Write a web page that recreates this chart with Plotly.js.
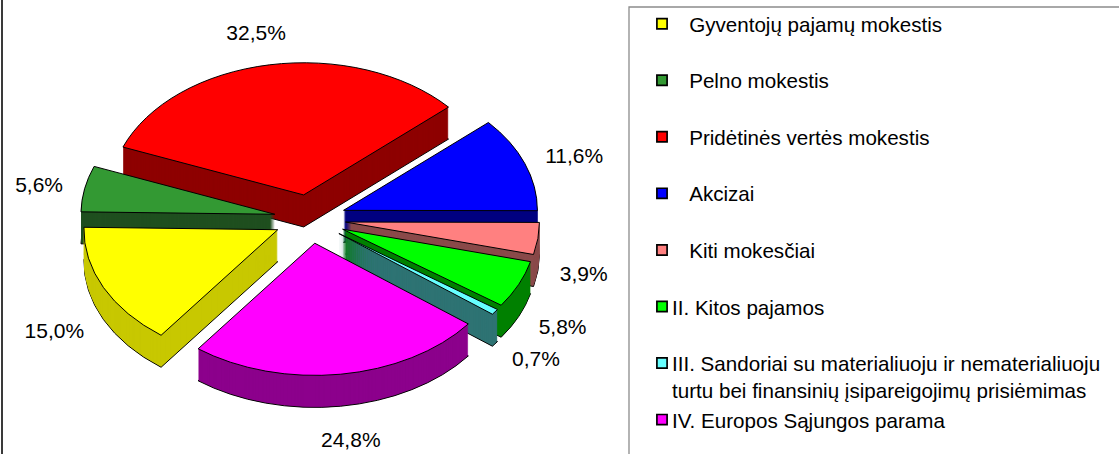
<!DOCTYPE html>
<html>
<head>
<meta charset="utf-8">
<script src="https://cdn.plot.ly/plotly-3.0.1.min.js"></script>
<style>
html,body{margin:0;padding:0;background:#ffffff;}
#chart{width:1119px;height:454px;}
</style>
</head>
<body>
<div id="chart"></div>
<script>
// ---- data ----
const categories = [
  'Gyventojų pajamų mokestis',
  'Pelno mokestis',
  'Pridėtinės vertės mokestis',
  'Akcizai',
  'Kiti mokesčiai',
  'II. Kitos pajamos',
  'III. Sandoriai su materialiuoju ir nematerialiuoju turtu bei finansinių įsipareigojimų prisiėmimas',
  'IV. Europos Sąjungos parama'
];
const shares = [15.0, 5.6, 32.5, 11.6, 3.9, 5.8, 0.7, 24.8];
const legendLabels = [
  '\u00a0\u00a0\u00a0Gyventojų pajamų mokestis<br>\u00a0',
  '\u00a0\u00a0\u00a0Pelno mokestis<br>\u00a0',
  '\u00a0\u00a0\u00a0Pridėtinės vertės mokestis<br>\u00a0',
  '\u00a0\u00a0\u00a0Akcizai<br>\u00a0',
  '\u00a0\u00a0\u00a0Kiti mokesčiai<br>\u00a0',
  'II. Kitos pajamos<br>\u00a0',
  'III. Sandoriai su materialiuoju ir nematerialiuoju<br>turtu bei finansinių įsipareigojimų prisiėmimas',
  'IV. Europos Sąjungos parama'
];

// ---- style ----
const topColors  = ['#FFFF00', '#339933', '#FF0000', '#0000FF', '#FF8080', '#00FF00', '#66FFFF', '#FF00FF'];
const sideColors = ['#C8C800', '#1F4F1F', '#8E0000', '#000080', '#8A4A4A', '#008000', '#2E7373', '#8C008C'];

const W = 1119, H = 454;
const pieCx = 310, pieCyScreen = 219, domainHalf = 227;
const sx = 1.012, sy = 0.69, depth = 32, labelGap = 22;
const pullAmt = 0.185;
const FONT = 'Liberation Sans, Arial, sans-serif';

const domain = {x: [(pieCx - domainHalf) / W, (pieCx + domainHalf) / W], y: [0, 1]};
const base = {
  type: 'pie', values: shares, labels: legendLabels, sort: false,
  direction: 'clockwise', rotation: 217, pull: pullAmt, domain: domain,
  hoverinfo: 'skip', textinfo: 'none', showlegend: false
};

const traces = [];
const offsets = [];
for (let k = depth; k >= 1; k--) {
  traces.push(Object.assign({}, base, {
    marker: {colors: sideColors, line: {color: k === depth ? '#000000' : 'rgba(0,0,0,0)', width: k === depth ? 1 : 0}}
  }));
  offsets.push(k);
}
traces.push(Object.assign({}, base, {
  marker: {colors: topColors, line: {color: '#000000', width: 1}},
  textinfo: 'percent',
  texttemplate: '%{percent:.1%}',
  textposition: 'outside',
  outsidetextfont: {family: FONT, size: 21, color: '#000000'},
  textfont: {family: FONT, size: 21, color: '#000000'},
  showlegend: true
}));
offsets.push(0);

const layout = {
  width: W, height: H,
  margin: {l: 0, r: 0, t: 0, b: 0},
  paper_bgcolor: '#ffffff',
  separators: ', ',
  font: {family: FONT, size: 21, color: '#000000'},
  showlegend: true,
  legend: {
    x: 632 / W, xanchor: 'left', y: 1 - 3.8 / H, yanchor: 'top',
    valign: 'top', traceorder: 'normal',
    font: {family: FONT, size: 20.6, color: '#000000'},
    bgcolor: 'rgba(0,0,0,0)', borderwidth: 0
  },
  shapes: [
    {type: 'line', xref: 'paper', yref: 'paper', x0: 2 / W, x1: 2 / W, y0: -0.02, y1: 1.02,
     line: {color: '#3a3a3a', width: 2}},
    {type: 'rect', xref: 'paper', yref: 'paper', x0: 629 / W, x1: 1.02, y0: -0.02, y1: 1 - 7 / H,
     line: {color: '#8c8c8c', width: 1.3}, fillcolor: 'rgba(0,0,0,0)'}
  ]
};

const gd = document.getElementById('chart');
Plotly.newPlot(gd, traces, layout, {staticPlot: true, displayModeBar: false}).then(function () {
  const cdTop = gd.calcdata[gd.calcdata.length - 1];
  const cd0 = cdTop[0];
  const cx = cd0.cx, cy = cd0.cy, r = cd0.r;
  const ty = pieCyScreen - sy * cy;
  const tx = cx * (1 - sx);
  const groups = gd.querySelectorAll('.pielayer g.trace');
  groups.forEach(function (g, i) {
    g.setAttribute('transform', 'matrix(' + sx + ',0,0,' + sy + ',' + tx + ',' + (ty + offsets[i]) + ')');
  });
  gd.querySelectorAll('.pielayer path.surface').forEach(function (p) { p.style.vectorEffect = 'non-scaling-stroke'; });
  gd.querySelectorAll('.pielayer path.textline').forEach(function (p) { p.style.display = 'none'; });

  const top = groups[groups.length - 1];
  const svgRect = gd.querySelector('.main-svg').getBoundingClientRect();
  top.querySelectorAll('g.slice').forEach(function (sl) {
    const tg = sl.querySelector('g.slicetext');
    if (!tg) return;
    const pt = sl.__data__;
    const bb = tg.getBBox();
    const px = bb.x + bb.width / 2, py = bb.y + bb.height / 2;
    tg.setAttribute('transform', 'translate(' + px + ',' + py + ') scale(' + (1 / sx) + ',' + (1 / sy) + ') translate(' + (-px) + ',' + (-py) + ')');
    const rc = tg.getBoundingClientRect();
    const curX = rc.left - svgRect.left + rc.width / 2;
    const curY = rc.top - svgRect.top + rc.height / 2;
    let ux = sx * pt.pxmid[0] / r, uy = sy * pt.pxmid[1] / r;
    const n = Math.hypot(ux, uy); ux /= n; uy /= n;
    const pcx = (pt.cxFinal != null) ? pt.cxFinal : cx + pullAmt * pt.pxmid[0];
    const pcy = (pt.cyFinal != null) ? pt.cyFinal : cy + pullAmt * pt.pxmid[1];
    const ex = sx * (pcx + pt.pxmid[0]) + tx;
    const ey = sy * (pcy + pt.pxmid[1]) + ty + (uy > 0 ? depth : 0);
    const tX = ex + (rc.width / 2 + labelGap) * ux;
    const tY = ey + (rc.height / 2 + labelGap) * uy;
    const dx = (tX - curX) / sx, dy = (tY - curY) / sy;
    tg.setAttribute('transform', 'translate(' + dx + ',' + dy + ') ' + tg.getAttribute('transform'));
  });

  gd.querySelectorAll('.legend path.legendpie').forEach(function (p) {
    p.setAttribute('transform', 'translate(30,0) scale(0.85)');
    p.style.strokeWidth = '2px';
  });
});
</script>
</body>
</html>
